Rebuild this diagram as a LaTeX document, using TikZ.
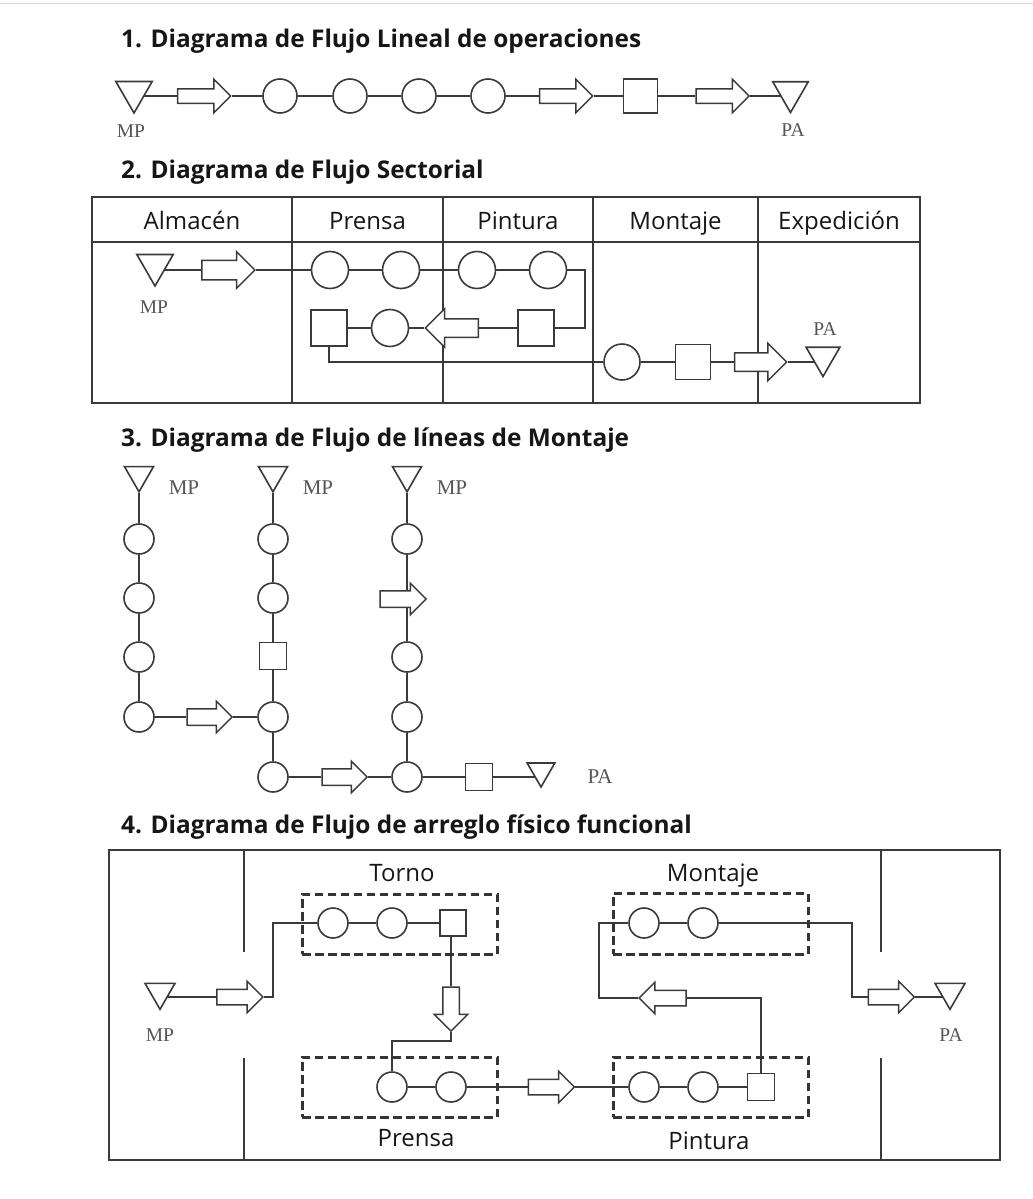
\documentclass[tikz,border=0pt]{standalone}
\usepackage{fontspec}
\setmainfont{Open Sans}
\newfontfamily\mpfont{Liberation Serif}
\usepackage{xcolor}
\usepackage{tikz}
\usetikzlibrary{shapes.geometric,shapes.arrows,backgrounds,positioning}
\definecolor{linec}{RGB}{58,58,58}
\definecolor{textc}{RGB}{22,22,22}
\definecolor{mpgray}{RGB}{85,85,85}
\definecolor{topline}{RGB}{215,215,215}

\begin{document}
\begin{tikzpicture}[
  x=1pt, y=-1pt,
  every node/.style={inner sep=0pt},
  title/.style={anchor=base west, font=\fontsize{24.4}{29}\selectfont\bfseries, text=textc},
  head/.style={anchor=base, font=\fontsize{24}{29}\selectfont, text=textc},
  lbl/.style={font=\mpfont\fontsize{19.5}{22}\selectfont, text=mpgray},
  op/.style={circle, draw=linec, fill=white, line width=1.6pt, minimum size=#1},
  insp/.style={rectangle, draw=linec, fill=white, line width=1.6pt, minimum size=#1},
  store/.style={regular polygon, regular polygon sides=3, shape border rotate=180,
    draw=linec, fill=white, line width=1.6pt, minimum size=#1},
  blk/.style n args={3}{single arrow, draw=linec, fill=white, line width=1.5pt,
    minimum height=#1, inner xsep=0pt, inner ysep=#2, single arrow head extend=#3},
  ln/.style={draw=linec, line width=1.7pt},
  frame/.style={draw=linec, line width=2pt},
  zone/.style={draw=linec!90!black, line width=3pt, dash pattern=on 8.5pt off 4.5pt}
]
\useasboundingbox (0,0) rectangle (1033,1199);
\draw[topline, line width=1pt] (0,4) -- (1033,4);

% 1. lineal
\node[title] (t1) at (121,48) {1. Diagrama de Flujo Lineal de operaciones};
\node[store=42] (mp1) at (134,92) {};
\node[blk={53}{6.5}{9.5}] (f1) at (200.5,96) {};
\node[op=34] (o1) at (280,96) {};
\node[op=34] (o2) at (350,96) {};
\node[op=34] (o3) at (419,96) {};
\node[op=34] (o4) at (488,96) {};
\node[blk={53}{6.5}{9.5}] (f2) at (562.5,96) {};
\node[insp=34] (i1) at (640.5,96) {};
\node[blk={53}{6.5}{9.5}] (f3) at (719,96) {};
\node[store=41] (pa1) at (790.5,92) {};
\node[lbl] (mp1l) at (131,131) {MP};
\node[lbl] (pa1l) at (793,130) {PA};
\begin{scope}[on background layer]
  \draw[ln] (mp1 |- f1) -- (f1) -- (o1) -- (o2) -- (o3) -- (o4) -- (f2) -- (i1) -- (f3) -- (pa1 |- f3);
\end{scope}

% 2. sectorial
\node[title] (t2) at (121,178) {2. Diagrama de Flujo Sectorial};
\draw[frame] (92,197) rectangle (920,403);
\draw[frame] (92,242) -- (920,242);
\foreach \x in {292,443,593,758}
  \draw[frame] (\x,197) -- (\x,403);
\node[head] (h1) at (192,229) {Almacén};
\node[head] (h2) at (367.5,229) {Prensa};
\node[head] (h3) at (518,229) {Pintura};
\node[head] (h4) at (675.5,229) {Montaje};
\node[head] (h5) at (839,229) {Expedición};
\node[store=42] (mp2) at (155,265) {};
\node[lbl] (mp2l) at (154,307) {MP};
\node[blk={53}{9}{8.5}] (f4) at (223.5,270) {};
\node[op=37] (o5) at (330,270) {};
\node[op=37] (o6) at (401,270) {};
\node[op=37] (o7) at (477,270) {};
\node[op=37] (o8) at (548,270) {};
\coordinate (k1) at (585,270);
\node[insp=36] (i3) at (536,328) {};
\node[blk={53}{8.5}{10}, shape border rotate=180] (f5) at (456.5,328) {};
\node[op=37] (o9) at (390,328) {};
\node[insp=36] (i2) at (329,328) {};
\node[op=36] (o10) at (622,362) {};
\node[insp=35] (i4) at (693,362) {};
\node[blk={52}{8.5}{9.5}] (f6) at (756,362) {};
\node[store=39] (pa2) at (823,357) {};
\node[lbl] (pa2l) at (825,329) {PA};
\begin{scope}[on background layer]
  \draw[ln] (mp2 |- f4) -- (f4) -- (o5) -- (o6) -- (o7) -- (o8) -- (k1) |- (i3);
  \draw[ln] (i3) -- (f5) -- (o9) -- (i2);
  \draw[ln] (i2) |- (o10) -- (i4) -- (f6) -- (pa2 |- f6);
\end{scope}

% 3. lineas de montaje
\node[title] (t3) at (121,446) {3. Diagrama de Flujo de líneas de Montaje};
\node[store=33.5] (mpA) at (139,475) {};
\node[store=33.5] (mpB) at (273,475) {};
\node[store=33.5] (mpC) at (407,475) {};
\node[lbl, font=\mpfont\fontsize{21}{24}\selectfont] (mpAl) at (184,488) {MP};
\node[lbl, font=\mpfont\fontsize{21}{24}\selectfont] (mpBl) at (318,488) {MP};
\node[lbl, font=\mpfont\fontsize{21}{24}\selectfont] (mpCl) at (452,488) {MP};
\node[op=30] (oA1) at (139,539) {};
\node[op=30] (oA2) at (139,598) {};
\node[op=30] (oA3) at (139,657) {};
\node[op=30] (oA4) at (139,717) {};
\node[op=30] (oB1) at (273,539) {};
\node[op=30] (oB2) at (273,598) {};
\node[insp=27] (iB) at (273,656) {};
\node[op=30] (oB3) at (273,717) {};
\node[op=30] (oB4) at (273,777) {};
\node[op=30] (oC1) at (407,539) {};
\node[blk={46}{7.5}{7.5}] (fC) at (399,599) {};
\node[op=30] (oC2) at (407,657) {};
\node[op=30] (oC3) at (407,717) {};
\node[op=30] (oC4) at (407,777) {};
\node[blk={45}{7.5}{7.5}] (fA) at (205.5,717) {};
\node[blk={45}{7.5}{7.5}] (fB) at (340.5,777) {};
\node[insp=27] (iC) at (479,777) {};
\node[store=32] (paC) at (541,771) {};
\node[lbl, font=\mpfont\fontsize{21}{24}\selectfont] (paCl) at (600,777) {PA};
\begin{scope}[on background layer]
  \draw[ln] (mpA) -- (oA1) -- (oA2) -- (oA3) -- (oA4) -- (fA) -- (oB3);
  \draw[ln] (mpB) -- (oB1) -- (oB2) -- (iB) -- (oB3) -- (oB4) -- (fB) -- (oC4) -- (iC) -- (paC |- iC);
  \draw[ln] (mpC) -- (oC1) -- (oC2) -- (oC3) -- (oC4);
\end{scope}

% 4. arreglo fisico funcional
\node[title] (t4) at (121,833) {4. Diagrama de Flujo de arreglo físico funcional};
\draw[frame] (109,850) rectangle (1000,1160);
\foreach \x in {244,881} {
  \draw[frame] (\x,850) -- (\x,952);
  \draw[frame] (\x,1058) -- (\x,1160);
}
\node[zone, minimum width=195, minimum height=60] (torno) at (399.5,924) {};
\node[zone, minimum width=195, minimum height=60] (prensa) at (399.5,1087) {};
\node[zone, minimum width=195, minimum height=61] (montaje) at (710.5,923.5) {};
\node[zone, minimum width=195, minimum height=60] (pintura) at (710.5,1087) {};
\node[head] (tornol) at (402,881) {Torno};
\node[head] (montajel) at (713,881) {Montaje};
\node[head] (prensal) at (416,1146) {Prensa};
\node[head] (pintural) at (709,1149) {Pintura};
\node[store=34.6] (mp4) at (160,992) {};
\node[lbl] (mp4l) at (160,1035) {MP};
\node[blk={46}{7}{8}] (f7) at (236,997) {};
\coordinate (k2) at (273,997);
\node[op=30] (tc1) at (333,923) {};
\node[op=30] (tc2) at (392,923) {};
\node[insp=26] (ti) at (453,923) {};
\node[blk={44}{7.5}{8.5}, rotate=-90] (f8) at (451,1005) {};
\coordinate (k3) at (451,1041);
\node[op=30] (pc1) at (392,1087) {};
\node[op=30] (pc2) at (451,1087) {};
\node[blk={46}{7}{8}] (f9) at (547.5,1087) {};
\node[op=30] (nc1) at (644,1087) {};
\node[op=30] (nc2) at (703,1087) {};
\node[insp=27] (ni) at (761,1087) {};
\node[blk={47}{7}{8}, shape border rotate=180] (f10) at (666.5,998) {};
\coordinate (k4) at (599,998);
\node[op=30] (mc1) at (644,923) {};
\node[op=30] (mc2) at (703,923) {};
\coordinate (k5) at (852,923);
\node[blk={46}{7}{8}] (f11) at (887.5,997) {};
\node[store=34.6] (pa4) at (950,992) {};
\node[lbl] (pa4l) at (951,1035) {PA};
\begin{scope}[on background layer]
  \draw[ln] (mp4 |- f7) -- (f7) -- (k2) |- (tc1) -- (tc2) -- (ti) -- (f8 |- ti) -- (f8);
  \draw[ln] (f8) -- (k3) -| (pc1) -- (pc2) -- (f9) -- (nc1) -- (nc2) -- (ni);
  \draw[ln] (ni) |- (f10) -- (k4) |- (mc1) -- (mc2) -- (k5) |- (f11) -- (pa4 |- f11);
\end{scope}
\end{tikzpicture}
\end{document}
